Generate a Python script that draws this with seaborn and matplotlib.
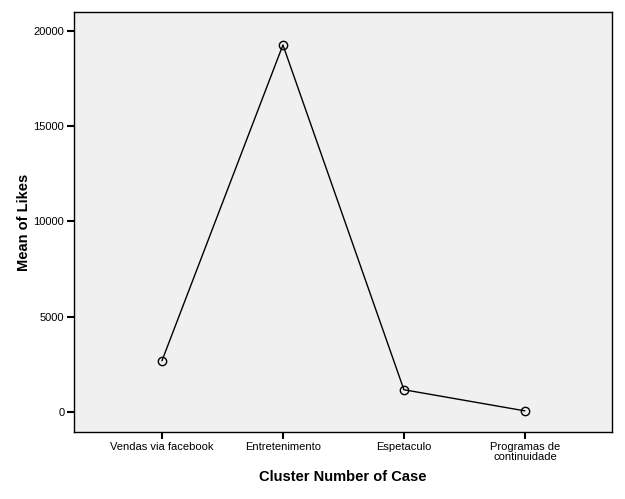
import matplotlib
matplotlib.use('Agg')
import matplotlib.pyplot as plt
import pandas as pd
import seaborn as sns

# Data
clusters = ['Vendas via facebook', 'Entretenimento', 'Espetaculo', 'Programas de\ncontinuidade']
mean_likes = [2680, 19270, 1160, 50]
yticks = [0, 5000, 10000, 15000, 20000]

df = pd.DataFrame({'pos': range(len(clusters)), 'likes': mean_likes})

sns.set_style('ticks')
plt.rcParams['font.family'] = ['Liberation Sans', 'DejaVu Sans']
plt.rcParams['text.color'] = 'black'
plt.rcParams['axes.labelcolor'] = 'black'
plt.rcParams['xtick.color'] = 'black'
plt.rcParams['ytick.color'] = 'black'

fig = plt.figure(figsize=(6.25, 4.99), dpi=100)
ax = fig.add_axes([74/625, 67/499, 538/625, 420/499])
ax.set_facecolor('#f0f0f0')

sns.lineplot(data=df, x='pos', y='likes', ax=ax, color='black', linewidth=1,
             marker='o', markersize=6, markerfacecolor='none',
             markeredgecolor='black', markeredgewidth=1)

ax.set_xlim(-0.727, 3.72)
ax.set_ylim(-1060, 21000)
ax.set_xticks(range(len(clusters)))
ax.set_xticklabels(clusters, fontsize=8, linespacing=1.05)
ax.set_yticks(yticks)
ax.set_yticklabels([str(v) for v in yticks], fontsize=8)
ax.tick_params(direction='out', length=5, width=1.5, color='black', pad=2)

for s in ax.spines.values():
    s.set_visible(True)
    s.set_color('black')
    s.set_linewidth(1)

ax.set_xlabel('Cluster Number of Case', fontsize=10.5, fontweight='bold', labelpad=6)
ax.set_ylabel('Mean of Likes', fontsize=10.5, fontweight='bold', labelpad=2)

fig.savefig('out.png', dpi=100)
